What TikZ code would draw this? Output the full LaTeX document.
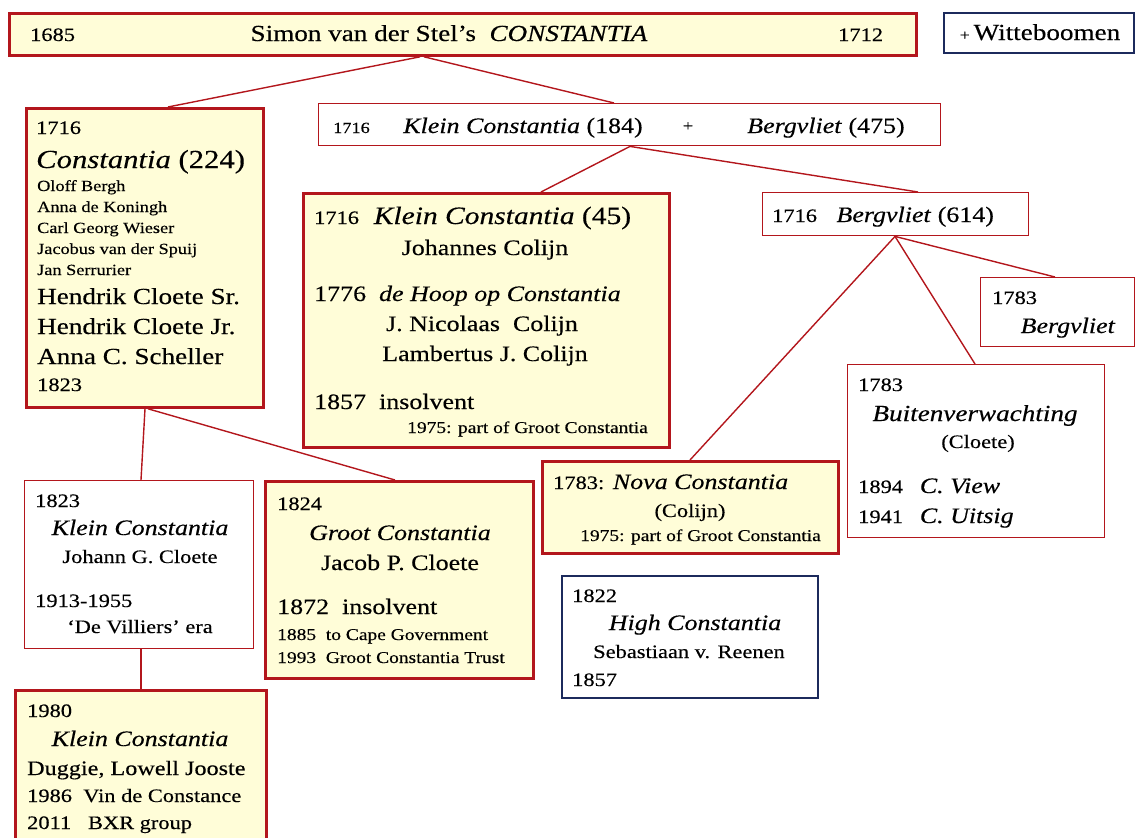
\documentclass[tikz,border=0pt]{standalone}
\usepackage{fontspec}
\setmainfont{Liberation Serif}[FakeStretch=1.18,FakeBold=0.35]
\definecolor{bred}{HTML}{B3161C}
\definecolor{cream}{HTML}{FFFDD8}
\definecolor{navy}{HTML}{1C2A5C}
\begin{document}
\begin{tikzpicture}[x=1pt,y=-1pt,
  box/.style={rectangle, anchor=north west, inner sep=0pt, minimum width=#1},
  ybox/.style={box=#1, draw=bred, line width=2.8pt, fill=cream},
  wbox/.style={box=#1, draw=bred, line width=1.4pt, fill=white},
  nbox/.style={box=#1, draw=navy, line width=1.6pt, fill=white},
  link/.style={draw=bred, line width=1.4pt},
  tl/.style={anchor=base west, inner sep=0pt},
  tc/.style={anchor=base, inner sep=0pt},
  fA/.style={font=\fontsize{15.5}{18}\selectfont},
  fS/.style={font=\fontsize{16.5}{19}\selectfont},
  fB/.style={font=\fontsize{19}{22}\selectfont},
  fE/.style={font=\fontsize{20.5}{24}\selectfont},
  fC/.style={font=\fontsize{22}{26}\selectfont},
  fF/.style={font=\fontsize{23}{27}\selectfont},
  fD/.style={font=\fontsize{25}{28}\selectfont},
]
\useasboundingbox (0,0) rectangle (1138,838);
\clip (0,0) rectangle (1138,838);

% boxes
\node[ybox=907pt, minimum height=42pt] (top) at (8,12) {};
\node[nbox=190pt, minimum height=40pt] (witte) at (943,12) {};
\node[ybox=237pt, minimum height=299pt] (const) at (25,107) {};
\node[wbox=622pt, minimum height=42pt] (kb) at (318,103) {};
\node[ybox=366pt, minimum height=254pt] (klein) at (302,192) {};
\node[wbox=266pt, minimum height=43pt] (berg) at (762,192) {};
\node[wbox=154pt, minimum height=69pt] (bv) at (980,277) {};
\node[wbox=257pt, minimum height=173pt] (buiten) at (847,364) {};
\node[ybox=296pt, minimum height=92pt] (nova) at (541,460) {};
\node[nbox=256pt, minimum height=122pt] (high) at (561,575) {};
\node[wbox=229pt, minimum height=168pt] (kc) at (24,480) {};
\node[ybox=268pt, minimum height=197pt] (groot) at (264,480) {};
\node[ybox=251pt, minimum height=170pt] (kn) at (14,689) {};

% connectors
\draw[link] ([xshift=412pt]top.south west) -- ([xshift=143pt]const.north west);
\draw[link] ([xshift=416pt]top.south west) -- ([xshift=296pt]kb.north west);
\draw[link] ([xshift=312pt]kb.south west) -- ([xshift=239pt]klein.north west);
\draw[link] ([xshift=312pt]kb.south west) -- ([xshift=156pt]berg.north west);
\draw[link] ([xshift=133pt]berg.south west) -- ([xshift=149pt]nova.north west);
\draw[link] ([xshift=133pt]berg.south west) -- ([xshift=128pt]buiten.north west);
\draw[link] ([xshift=133pt]berg.south west) -- ([xshift=75pt]bv.north west);
\draw[link] ([xshift=120pt]const.south west) -- ([xshift=117pt]kc.north west);
\draw[link] ([xshift=123pt]const.south west) -- ([xshift=131pt]groot.north west);
\draw[link] ([xshift=117pt]kc.south west) -- ([xshift=127pt]kn.north west);

% top
\node[tl,fB] (t1) at (30,41) {1685};
\node[tc,fF] (t2) at (449,41) {Simon van der Stel’s\ \ \textit{CONSTANTIA}};
\node[tl,fB] (t3) at (838,41) {1712};
\node[tc,fF] (t4) at (1040,40) {{\fontsize{15}{15}\selectfont +}\,Witteboomen};

% K + B
\node[tl,fA] (t5) at (333,133) {1716};
\node[tc,fC] (t6) at (523,133) {\textit{Klein Constantia} (184)};
\node[tc,fA] (t7) at (688,131) {+};
\node[tc,fC] (t8) at (826,133) {\textit{Bergvliet} (475)};

% Constantia (224)
\node[tl,fB] (c1) at (36,134) {1716};
\node[tl,font=\fontsize{26}{29}\selectfont] (c2) at (36,168) {\textit{Constantia} (224)};
\node[tl,fA] (c3) at (37,191) {Oloff Bergh};
\node[tl,fA] (c4) at (37,212) {Anna de Koningh};
\node[tl,fA] (c5) at (37,233) {Carl Georg Wieser};
\node[tl,fA] (c6) at (37,254) {Jacobus van der Spuij};
\node[tl,fA] (c7) at (37,275) {Jan Serrurier};
\node[tl,fF] (c8) at (37,304) {Hendrik Cloete Sr.};
\node[tl,fF] (c9) at (37,334) {Hendrik Cloete Jr.};
\node[tl,fF] (c10) at (37,364) {Anna C. Scheller};
\node[tl,fB] (c11) at (37,391) {1823};

% Klein Constantia (45)
\node[tl,fD] (k1) at (314,224) {{\fontsize{19}{22}\selectfont 1716}\ \ \textit{Klein Constantia} (45)};
\node[tc,fC] (k2) at (485,255) {Johannes Colijn};
\node[tl,fC] (k3) at (314,301) {1776\ \ \textit{de Hoop op Constantia}};
\node[tc,fC] (k4) at (482,331) {J. Nicolaas\ \ Colijn};
\node[tc,fC] (k5) at (485,361) {Lambertus J. Colijn};
\node[tl,fC] (k6) at (314,409) {1857\ \ insolvent};
\node[tl,fS] (k7) at (407,433) {1975: part of Groot Constantia};

% Bergvliet (614)
\node[tl,fC] (b1) at (772,222) {{\fontsize{19}{22}\selectfont 1716}\ \ \ \textit{Bergvliet} (614)};
% 1783 Bergvliet
\node[tl,fB] (b2) at (992,304) {1783};
\node[tc,fC] (b3) at (1068,333) {\textit{Bergvliet}};

% Buitenverwachting
\node[tl,fB] (u1) at (858,391) {1783};
\node[tc,fF] (u2) at (975,421) {\textit{Buitenverwachting}};
\node[tc,fB] (u3) at (978,448) {(Cloete)};
\node[tl,fB] (u4) at (858,493) {1894\ \ \ {\fontsize{22}{26}\selectfont\textit{C. View}}};
\node[tl,fB] (u5) at (858,523) {1941\ \ \ {\fontsize{22}{26}\selectfont\textit{C. Uitsig}}};

% Nova Constantia
\node[tl,fC] (n1) at (553,489) {{\fontsize{19}{22}\selectfont 1783:} \textit{Nova Constantia}};
\node[tc,fB] (n2) at (690,517) {(Colijn)};
\node[tl,fS] (n3) at (580,541) {1975: part of Groot Constantia};

% High Constantia
\node[tl,fB] (h1) at (572,602) {1822};
\node[tc,fC] (h2) at (695,630) {\textit{High Constantia}};
\node[tc,fB] (h3) at (689,658) {Sebastiaan v. Reenen};
\node[tl,fB] (h4) at (572,686) {1857};

% 1823 Klein Constantia
\node[tl,fB] (d1) at (35,507) {1823};
\node[tc,fC] (d2) at (140,535) {\textit{Klein Constantia}};
\node[tc,fB] (d3) at (140,563) {Johann G. Cloete};
\node[tl,fB] (d4) at (35,607) {1913-1955};
\node[tc,fB] (d5) at (140,633) {‘De Villiers’ era};

% Groot Constantia
\node[tl,fB] (g1) at (277,510) {1824};
\node[tc,fC] (g2) at (400,540) {\textit{Groot Constantia}};
\node[tc,fC] (g3) at (400,570) {Jacob P. Cloete};
\node[tl,fC] (g4) at (277,614) {1872\ \ insolvent};
\node[tl,fS] (g5) at (277,640) {1885\ \ to Cape Government};
\node[tl,fS] (g6) at (277,663) {1993\ \ Groot Constantia Trust};

% 1980 Klein Constantia
\node[tl,fB] (m1) at (27,717) {1980};
\node[tc,fC] (m2) at (140,746) {\textit{Klein Constantia}};
\node[tl,fE] (m3) at (27,775) {Duggie, Lowell Jooste};
\node[tl,fB] (m4) at (27,802) {1986\ \ Vin de Constance};
\node[tl,fB] (m5) at (27,829) {2011\ \ \ BXR group};
\end{tikzpicture}
\end{document}
